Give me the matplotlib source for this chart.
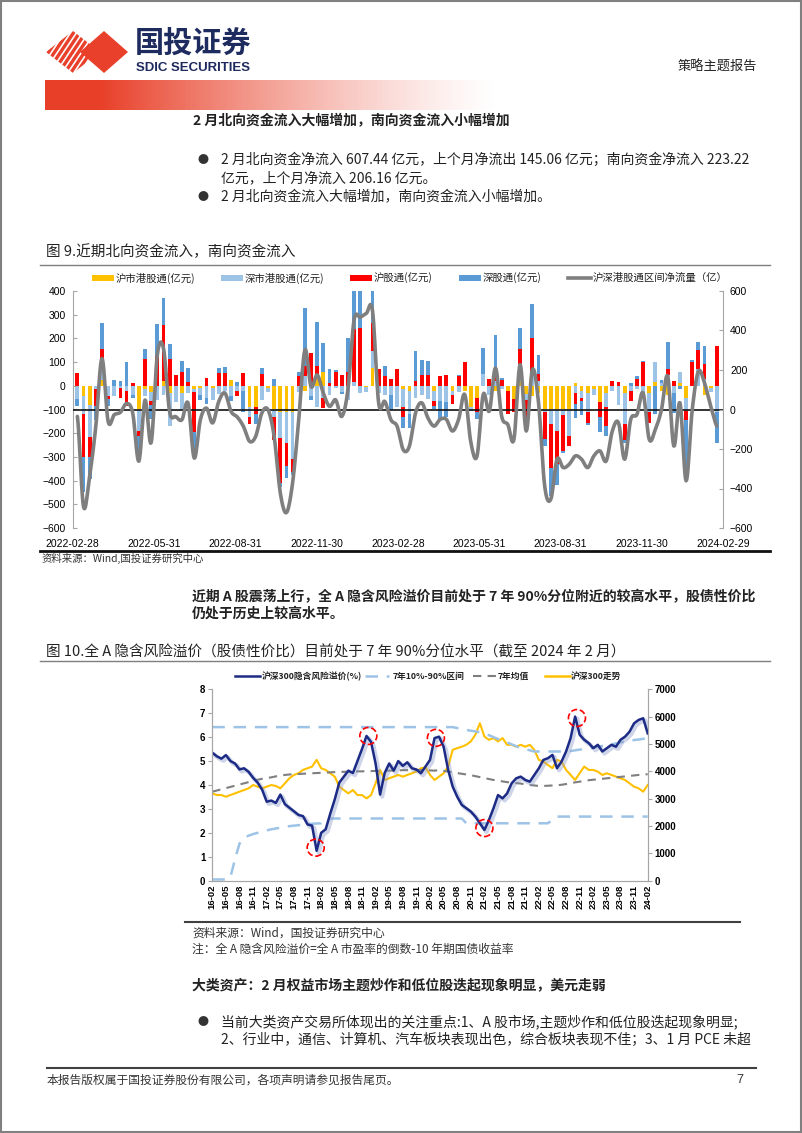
import numpy as np
import matplotlib

matplotlib.use("Agg")

import matplotlib.pyplot as plt
import matplotlib.patheffects as pe
from matplotlib.patches import Polygon, Rectangle

plt.rcParams["font.family"] = ["Liberation Sans", "Noto Sans CJK SC", "DejaVu Sans"]
CJK = ["Noto Sans CJK SC", "DejaVu Sans"]

W, H = 802, 1133

# ---------------- chart 1 data (weekly, 亿元) ----------------
week_labels = ["2022-02-28", "2022-05-31", "2022-08-31", "2022-11-30", "2023-02-28",
               "2023-05-31", "2023-08-31", "2023-11-30", "2024-02-29"]
sh_hk = [0, -45, -80, 0, 25, 0, 0, 0, 0, 0, -100, -15, -25, 0, 20, -30, 0, -30, 0, -15,
         -10, 0, -10, 0, 0, 25, 0, 0, -90, -90, 0, -10, -100, -110, -110, -110, 0, -20, 0, 40,
         60, 0, 0, 0, 0, 0, 0, -5, 75, 0, 0, 0, 0, -15,
         -20, 0, 0, 0, -20, 0, 0, -20, 0, -20, -90, -50, 0, 0, -20, 0, -20, -55, 20, -35,
         -45, -30, -100, -100, -100, -100, -100, 10, -20, -30, -15, -70, -30, 0, 0, -30, 0, 0, 0, -30,
         15, -20, -40, 0, 10, -50, 0, 0, -40, -10, 0]
sz_hk = [-55, -75, -135, -15, 85, -45, -45, -10, -20, -40, -90, -30, -40, -60, -40, -140, -70, -70, -30, -10,
         -30, -50, -50, -35, -20, -45, -20, -20, -40, 0, -60, -15, -30, -110, -130, -200, -25, 40, -45, -90,
         -50, -40, -10, -25, -60, 15, -30, -20, 70, -30, -40, -40, -90, -75,
         -100, -50, -40, -55, -45, -65, -70, -20, -25, 0, -15, 0, 50, -40, 20, -15, 0, 0, 70, -25,
         50, 20, -10, -60, -90, -25, -110, -30, -30, -80, -25, 0, -60, -20, -80, -130, -20, -15, -30, -80,
         85, 10, 45, -30, 50, -55, 0, 70, 30, -15, -110]
sh_conn = [55, -180, -85, -70, 45, -10, 0, -40, -65, 10, -20, 115, -15, 126, 237, 112, 45, 60, 15, -170,
           0, 35, 0, 55, 55, 0, -25, 55, -30, -30, 50, 0, -100, -190, -100, -55, 40, 45, 140, 45,
           -45, 10, 60, 45, 60, 225, 245, 0, 120, 70, 40, 30, 70, -40,
           0, 20, 45, 45, -20, 40, 45, -35, 40, 100, 0, -60, 0, 30, 20, 25, -100, -55, 65, -85,
           150, 30, -115, -185, -140, -150, -45, -45, -15, -45, 0, -60, -80, 20, 15, -70, -45, 30, 100, -45,
           0, 0, 25, 20, 0, -40, 100, 80, 60, 0, 170]
sz_conn = [-30, -150, -95, -60, 110, -30, 25, 20, 100, -10, -80, 42, -60, 134, 113, 63, 0, 45, 60, -100,
           -20, -25, 0, 20, 25, -20, 15, -90, 0, -40, 25, 0, 30, -15, -50, -10, 20, 245, -15, 185,
           120, 60, 5, -10, 140, 200, 200, 0, 200, 0, 45, -60, 0, -50,
           -60, 125, 65, 60, -15, -75, -60, 0, 5, 0, 0, -30, 110, 0, 175, 10, 0, 0, 90, 0,
           145, 80, -30, -120, -90, -10, 0, -60, -60, -10, 0, -65, -40, 0, 0, -10, 10, 10, 5, 0,
           -120, 15, 115, -85, -15, -210, 10, 35, 80, 0, -130]
net_flow = [-35, -492, -336, -84, 258, -60, -26, -14, 30, -18, -262, 48, -168, 276, 310, -10, -36, -52, 32, -246,
            -52, 7, -68, 41, 83, -10, -38, -85, -161, -136, -18, -1, -136, -422, -522, -372, -52, 302, 116, 175,
            83, 16, 49, -35, 100, 453, 467, 487, 500, 32, 41, -52, -85, -204,
            -185, -17, 34, -42, -84, -50, -50, -109, -50, 76, -168, -235, 76, -8, 210, -34, -76, -151, 227, -109,
            202, 34, -387, -454, -252, -294, -277, -235, -252, -294, -235, -210, -261, -109, -67, -252, -50, -25, 84, -151,
            -101, 0, 168, -185, 34, -361, 0, 193, 134, 17, -84]

# ---------------- chart 2 data (monthly 2016-02 .. 2024-02) ----------------
month_labels = ["16-02", "16-05", "16-08", "16-11", "17-02", "17-05", "17-08", "17-11",
                "18-02", "18-05", "18-08", "18-11", "19-02", "19-05", "19-08", "19-11",
                "20-02", "20-05", "20-08", "20-11", "21-02", "21-05", "21-08", "21-11",
                "22-02", "22-05", "22-08", "22-11", "23-02", "23-05", "23-08", "23-11", "24-02"]
erp = [5.35, 5.2, 5.1, 5.25, 5.0, 4.9, 4.65, 4.7, 4.55, 4.3, 4.1, 3.8, 3.3, 3.35, 3.25, 3.6, 3.2, 3.05, 2.9, 2.75,
       2.7, 2.35, 2.3, 1.25, 2.0, 2.15, 2.8, 3.4, 4.1, 4.35, 4.6, 4.5, 5.0, 5.5, 6.05, 5.8, 4.9, 3.6, 4.5, 4.9,
       4.6, 5.0, 4.8, 4.95, 4.7, 4.65,
       4.49, 4.77, 5.05, 5.96, 6.02, 5.6, 4.63, 3.93, 3.51, 3.17, 3.03, 2.89, 2.68, 2.4, 2.12, 2.54, 3.03, 3.58,
       3.44, 3.65, 4.07, 4.28, 4.35, 4.21, 4.14, 4.42, 4.7, 5.05, 5.12, 5.26, 4.7, 4.98, 5.4, 5.96, 6.86, 6.1,
       5.89, 5.75, 5.54, 5.68, 5.4, 5.54, 5.68, 5.6, 5.89, 6.02, 6.23, 6.58, 6.72, 6.79, 6.16]
band_hi = [6.42, 6.42, 6.42, 6.42, 6.42, 6.42, 6.42, 6.42, 6.42, 6.42, 6.42, 6.42, 6.42, 6.42, 6.42, 6.42,
           6.42, 6.42, 6.42, 6.42, 6.42, 6.42, 6.42, 6.42, 6.42, 6.42, 6.42, 6.42, 6.42, 6.42, 6.42, 6.42,
           6.42, 6.42, 6.42, 6.42, 6.42, 6.42, 6.42, 6.42, 6.42, 6.42, 6.42, 6.42, 6.42, 6.42, 6.42, 6.42,
           6.42, 6.42, 6.42, 6.42, 6.42, 6.42,
           6.38, 6.35, 6.3, 6.27, 6.24, 6.2, 6.15, 6.08, 6.0, 5.92, 5.85, 5.78, 5.7, 5.62, 5.55, 5.5, 5.45,
           5.4, 5.4, 5.4, 5.4, 5.4, 5.4, 5.4, 5.4, 5.42, 5.45, 5.48, 5.5, 5.53, 5.56, 5.6, 5.63, 5.66, 5.7,
           5.74, 5.78, 5.82, 5.85, 5.88, 5.9, 5.93, 5.96]
band_lo = [0.05, 0.05, 0.05, 0.05, 0.15, 0.9, 1.55, 1.8, 1.88, 1.95, 2.0, 2.05, 2.1, 2.15, 2.18, 2.22, 2.25,
           2.28, 2.3, 2.32, 2.34, 2.36, 2.38, 2.39, 2.4,
           2.6, 2.6, 2.6, 2.6, 2.6, 2.6, 2.6, 2.6, 2.6, 2.6, 2.6, 2.6, 2.6, 2.6, 2.6, 2.6, 2.6, 2.6, 2.6, 2.6,
           2.6, 2.6, 2.6, 2.6, 2.6, 2.6, 2.6, 2.6, 2.6, 2.6, 2.6,
           2.4, 2.4, 2.4, 2.4, 2.4, 2.4, 2.4, 2.4, 2.4, 2.4, 2.4, 2.4, 2.4, 2.4, 2.4, 2.4, 2.4, 2.4, 2.4,
           2.55,
           2.68, 2.68, 2.68, 2.68, 2.68, 2.68, 2.68, 2.68, 2.68, 2.68, 2.68, 2.68, 2.68, 2.68, 2.68, 2.68,
           2.68, 2.68, 2.68, 2.68, 2.68]
erp_mean = [3.72, 3.77, 3.82, 3.87, 3.92, 3.97, 4.02, 4.07, 4.12, 4.18, 4.22, 4.26, 4.29, 4.32, 4.36, 4.4,
            4.42, 4.44, 4.45, 4.46, 4.47, 4.48, 4.49, 4.5, 4.51, 4.52, 4.53, 4.54, 4.55, 4.55, 4.56, 4.56,
            4.57, 4.57, 4.58, 4.58, 4.59, 4.59, 4.6, 4.6, 4.61, 4.61, 4.62, 4.62, 4.63, 4.63, 4.63, 4.62,
            4.61, 4.6, 4.62, 4.59, 4.56, 4.53, 4.5, 4.47, 4.44, 4.41, 4.37, 4.33, 4.29, 4.25, 4.21, 4.18,
            4.15, 4.12, 4.1, 4.08, 4.06, 4.03, 4.0, 3.98, 3.96, 3.96, 3.97, 3.98, 3.99, 4.01, 4.04, 4.08,
            4.11, 4.14, 4.17, 4.2, 4.22, 4.24, 4.26, 4.28, 4.3, 4.32, 4.34, 4.36, 4.38, 4.4, 4.42, 4.44, 4.45]
csi300 = [3194, 3133, 3133, 3071, 3133, 3194, 3255, 3316, 3378, 3500, 3439, 3378, 3439, 3500, 3465, 3378,
          3561, 3745, 3868, 3929, 4051, 4113, 4174, 4419, 4113, 4051, 3929, 3806, 3439, 3316, 3194, 3316,
          3133, 3133, 3010, 3133, 3561, 4051, 3684, 3745, 3806, 3868, 3806, 3868, 3929, 3990,
          4113, 4148, 3868, 3684, 3806, 3929, 4174, 4786, 4848, 4900, 4970, 5093, 5338, 5758, 5268, 5154,
          5215, 5093, 5215, 4970, 4970, 4900, 4970, 4900, 4970, 4786, 4419, 4358, 4235, 4113, 4419, 4358,
          4051, 3868, 3684, 3929, 4174, 4051, 4051, 3990, 3868, 3929, 3868, 3806, 3745, 3684, 3561, 3439,
          3378, 3255, 3500]
circle_month = [22.8, 34.4, 49.3, 60.0, 80.4]
circle_erp = [1.38, 6.05, 5.97, 2.2, 6.8]


def box(x0, y0, x1, y1):
    return [x0 / W, 1 - y1 / H, (x1 - x0) / W, (y1 - y0) / H]


def smooth(values, n=10):
    y = np.asarray(values, dtype=float)
    p = np.concatenate([[y[0]], y, [y[-1]]])
    t = np.linspace(0, 1, n, endpoint=False)
    xs, ys = [], []
    for i in range(len(y) - 1):
        p0, p1, p2, p3 = p[i], p[i + 1], p[i + 2], p[i + 3]
        ys.append(0.5 * (2 * p1 + (-p0 + p2) * t + (2 * p0 - 5 * p1 + 4 * p2 - p3) * t ** 2
                         + (-p0 + 3 * p1 - 3 * p2 + p3) * t ** 3))
        xs.append(i + t)
    xs.append([len(y) - 1])
    ys.append([y[-1]])
    return np.concatenate(xs), np.concatenate(ys)


fig = plt.figure(figsize=(W / 100, H / 100), dpi=100)
page = fig.add_axes([0, 0, 1, 1])

# gradient banner
grad = np.zeros((2, 400, 4))
grad[..., 0] = 0.91
grad[..., 1] = 0.25
grad[..., 2] = 0.16
fade = np.linspace(0, 1, 400)
grad[..., 3] = np.clip(1.0 - (fade - 0.12) / 0.88, 0, 1) ** 1.3
page.imshow(grad, extent=(45, 500, 110, 80), aspect="auto", interpolation="bilinear")
page.set_xlim(0, W)
page.set_ylim(H, 0)
page.axis("off")

page.add_patch(Rectangle((1, 1), W - 2, H - 2, fill=False, ec="#808080", lw=1.5))

# logo
red = "#E8402A"
navy = "#1E2B5E"
page.add_patch(Polygon([(80, 52), (104, 31), (128, 52), (104, 73)], closed=True, fc=red, ec="none"))
clip = Polygon([(46, 52), (73, 31), (100, 52), (73, 73)], closed=True, fc="none", ec="none")
page.add_patch(clip)
for k in range(-6, 12):
    x0 = 30 + k * 6.0
    ln, = page.plot([x0, x0 + 40], [80, 20], color=red, lw=2.4, solid_capstyle="butt")
    ln.set_clip_path(clip)
page.text(135, 44, "国投证券", fontsize=21, fontweight="bold", color=navy,
          family=CJK, va="center", ha="left")
page.text(136, 68, "SDIC SECURITIES", fontsize=9.5, fontweight="bold", color=navy,
          family=["Liberation Sans", "DejaVu Sans"], va="center", ha="left")
page.text(757, 67, "策略主题报告", fontsize=9.5, color="#222222", family=CJK, va="center", ha="right")

body = dict(family=CJK, fontsize=10, color="#222222", va="center", ha="left")
light = dict(body, fontweight="light")
page.text(193, 121, "2 月北向资金流入大幅增加，南向资金流入小幅增加", fontweight="bold", **body)
for yy in (160, 197, 1022):
    page.text(197, yy, "●", family=CJK, fontsize=8, color="#333333", va="center", ha="left")
page.text(221, 160, "2 月北向资金净流入 607.44 亿元，上个月净流出 145.06 亿元；南向资金净流入 223.22", **light)
page.text(221, 178, "亿元，上个月净流入 206.16 亿元。", **light)
page.text(221, 197, "2 月北向资金流入大幅增加，南向资金流入小幅增加。", **light)

page.text(46, 252, "图 9.近期北向资金流入，南向资金流入", family=CJK, fontsize=10.5, color="#222222",
          va="center", ha="left")
page.plot([40, 770], [265, 265], color="#7F7F7F", lw=1)
page.plot([40, 770], [551, 551], color="#111111", lw=2)
page.text(42, 558, "资料来源：Wind,国投证券研究中心", family=CJK, fontsize=7.5, color="#333333",
          va="center", ha="left", style="italic")

page.text(192, 597, "近期 A 股震荡上行，全 A 隐含风险溢价目前处于 7 年 90%分位附近的较高水平，股债性价比",
          fontweight="bold", **body)
page.text(192, 614, "仍处于历史上较高水平。", fontweight="bold", **body)

page.text(46, 652, "图 10.全 A 隐含风险溢价（股债性价比）目前处于 7 年 90%分位水平（截至 2024 年 2 月）",
          family=CJK, fontsize=10.5, color="#222222", va="center", ha="left")
page.plot([40, 770], [661, 661], color="#7F7F7F", lw=1)
page.plot([185, 740], [922, 922], color="#404040", lw=1.5)
small = dict(family=CJK, fontsize=8.5, color="#333333", va="center", ha="left", fontweight="light")
page.text(192, 933, "资料来源：Wind，国投证券研究中心", **small)
page.text(192, 949, "注：全 A 隐含风险溢价=全 A 市盈率的倒数-10 年期国债收益率", **small)

page.text(192, 985, "大类资产：2 月权益市场主题炒作和低位股迭起现象明显，美元走弱", fontweight="bold", **body)
page.text(221, 1022, "当前大类资产交易所体现出的关注重点:1、A 股市场,主题炒作和低位股迭起现象明显;", **light)
page.text(221, 1040, "2、行业中，通信、计算机、汽车板块表现出色，综合板块表现不佳；3、1 月 PCE 未超", **light)

page.plot([47, 756], [1068, 1068], color="#404040", lw=1.5)
page.text(47, 1080, "本报告版权属于国投证券股份有限公司，各项声明请参见报告尾页。", family=CJK, fontsize=8.5,
          color="#333333", va="center", ha="left", fontweight="light")
page.text(740, 1080, "7", fontsize=9, color="#333333", va="center", ha="center")

# ---------------- chart 1 ----------------
c_yellow, c_lblue, c_red, c_blue, c_gray = "#FFC000", "#9DC3E6", "#FF0000", "#5B9BD5", "#7F7F7F"
series = [(sh_hk, c_yellow, "沪市港股通(亿元)"), (sz_hk, c_lblue, "深市港股通(亿元)"),
          (sh_conn, c_red, "沪股通(亿元)"), (sz_conn, c_blue, "深股通(亿元)")]

ax1 = fig.add_axes(box(72.7, 291, 723, 528))
ax1.patch.set_visible(False)
x = np.arange(len(sh_hk))
pos_base = np.zeros(len(x))
neg_base = np.zeros(len(x))
for vals, col, _ in series:
    v = np.asarray(vals, dtype=float)
    bottom = np.where(v >= 0, pos_base, neg_base)
    ax1.bar(x, v, bottom=bottom, width=0.62, color=col, lw=0)
    pos_base = pos_base + np.where(v > 0, v, 0)
    neg_base = neg_base + np.where(v < 0, v, 0)
ax1.set_xlim(-0.76, 105.0)
ax1.set_ylim(-600, 400)
ax1.set_yticks(np.arange(-600, 401, 100))
ax1.set_xticks(np.linspace(-0.76, 105.0, 9))
ax1.set_xticklabels(week_labels)
ax1.tick_params(axis="x", length=0, labelsize=7.5, pad=8)
ax1.tick_params(axis="y", direction="in", length=3, color="#A6A6A6", labelsize=7.5, pad=5)
for s in ("top", "right", "bottom"):
    ax1.spines[s].set_visible(False)
ax1.spines["left"].set_color("#A6A6A6")

ax1r = ax1.twinx()
ax1r.set_ylim(-600, 600)
ax1r.set_yticks(np.arange(-600, 601, 200))
ax1r.axhline(0, color="#111111", lw=1.2, zorder=1)
sx, sy = smooth(net_flow)
ax1r.plot(sx, sy, color=c_gray, lw=2.6, solid_capstyle="round", zorder=3)
ax1r.tick_params(axis="y", direction="in", length=3, color="#A6A6A6", labelsize=7.5, pad=5)
for s in ("top", "left", "bottom"):
    ax1r.spines[s].set_visible(False)
ax1r.spines["right"].set_color("#A6A6A6")

# legend chart 1
leg = dict(family=CJK, fontsize=7.5, color="#222222", va="center", ha="left")
for (vals, col, lab), px in zip(series, (92, 221, 350, 459)):
    page.add_patch(Rectangle((px, 275), 22, 6, fc=col, ec="none"))
    page.text(px + 24, 278, lab, **leg)
page.plot([568, 591], [278, 278], color=c_gray, lw=2.6)
page.text(593, 278, "沪深港股通区间净流量（亿）", **leg)

# ---------------- chart 2 ----------------
c_navy = "#1C2B85"
m = np.arange(len(erp))
ax2r = fig.add_axes(box(212.3, 689.3, 647.7, 880.7))
ax2 = ax2r.twinx()
ax2.set_zorder(ax2r.get_zorder() + 1)
ax2.patch.set_visible(False)
ax2r.plot(m, csi300, color=c_yellow, lw=1.5)
ax2r.set_ylim(0, 7000)
ax2r.set_yticks(np.arange(0, 7001, 1000))
ax2r.yaxis.tick_right()
ax2.yaxis.tick_left()
ax2.plot(m, band_hi, color=c_lblue, lw=1.8, dashes=(5, 3.5))
ax2.plot(m, band_lo, color=c_lblue, lw=1.8, dashes=(5, 3.5))
ax2.plot(m, erp_mean, color="#7F7F7F", lw=1.5, dashes=(4, 3))
ax2.plot(m, erp, color=c_navy, lw=1.8,
         path_effects=[pe.SimpleLineShadow(offset=(1.5, -1.5), shadow_color="#8896C8", alpha=0.4, linewidth=3),
                       pe.Normal()])
ax2.scatter(circle_month, circle_erp, s=150, facecolors="none", edgecolors="#FF0000",
            linewidths=1.2, linestyles="--", zorder=5)
ax2.set_ylim(0, 8)
ax2.set_yticks(np.arange(0, 9, 1))
ax2r.set_xlim(0, 96)
ax2r.set_xticks(np.arange(0, 97, 3))
ax2r.set_xticklabels(month_labels, rotation=90, fontweight="bold")
for a in (ax2, ax2r):
    a.tick_params(axis="both", direction="out", length=3, color="#A6A6A6", labelsize=7, pad=2)
    for s in a.spines.values():
        s.set_color("#A6A6A6")
    a.spines["top"].set_visible(False)
ax2r.tick_params(axis="x", length=0, labelsize=6.8, pad=3)
for lab in ax2.get_yticklabels() + ax2r.get_yticklabels():
    lab.set_fontweight("bold")

leg2 = dict(family=CJK, fontsize=6.3, fontweight="bold", color="#222222", va="center", ha="left")
page.plot([235, 260], [676, 676], color=c_navy, lw=1.8)
page.text(262, 676, "沪深300隐含风险溢价(%)", **leg2)
page.plot([365, 389], [676, 676], color=c_lblue, lw=1.8, dashes=(5, 3.5))
page.text(393, 676, "7年10%-90%区间", **leg2)
page.plot([473, 497], [676, 676], color="#7F7F7F", lw=1.5, dashes=(4, 3))
page.text(498, 676, "7年均值", **leg2)
page.plot([545, 570], [676, 676], color=c_yellow, lw=1.8)
page.text(571, 676, "沪深300走势", **leg2)

fig.savefig("out.png", dpi=100)
